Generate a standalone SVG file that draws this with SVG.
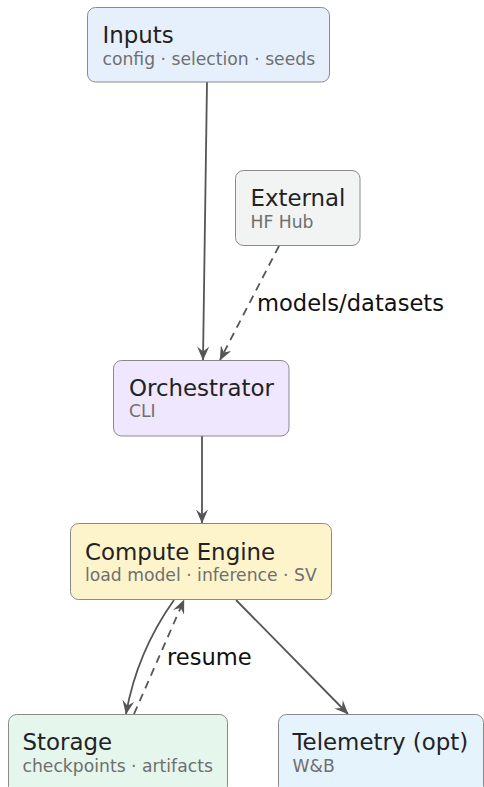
<svg xmlns="http://www.w3.org/2000/svg" width="484" height="787" viewBox="0 0 484 787">
<style>
.box{stroke:#8a8a8a;stroke-width:1}
.t{font-family:"DejaVu Sans",sans-serif;font-size:22.9px;fill:#222}
.s{font-family:"DejaVu Sans",sans-serif;font-size:17.2px;fill:#6f6f6f}
.e{fill:none;stroke:#555;stroke-width:1.8}
.d{stroke-dasharray:8,6}
.lbl{font-family:"DejaVu Sans",sans-serif;font-size:22.6px;fill:#111}
</style>
<defs>
<marker id="ah" viewBox="0 0 14 12" refX="13.5" refY="6" markerWidth="14" markerHeight="12" markerUnits="userSpaceOnUse" orient="auto">
<path d="M0,0 L14,6 L0,12 L5,6 z" fill="#555"/>
</marker>
</defs>
<g id="connectors">
<path class="e" d="M207,82 L203,360" marker-end="url(#ah)"/>
<path class="e d" d="M279,246 L220,360" marker-end="url(#ah)"/>
<path class="e" d="M202,436 L202,523" marker-end="url(#ah)"/>
<path class="e" d="M174,600 Q137,652 126,714" marker-end="url(#ah)"/>
<path class="e d" d="M134,714 L184,600" marker-end="url(#ah)"/>
<path class="e" d="M236,600 L348,714" marker-end="url(#ah)"/>
<text class="lbl" x="257" y="311">models/datasets</text>
<text class="lbl" x="167" y="665">resume</text>
</g>
<g id="inputs">
<rect class="box" x="87.5" y="7.5" width="242" height="74.5" rx="8" fill="#e6f0fd"/>
<text class="t" x="102.5" y="43">Inputs</text>
<text class="s" x="102.5" y="64.5">config · selection · seeds</text>
</g>
<g id="external">
<rect class="box" x="235.5" y="170.5" width="124.5" height="75" rx="8" fill="#f2f3f3"/>
<text class="t" x="250.5" y="205.5">External</text>
<text class="s" x="250.5" y="227.5">HF Hub</text>
</g>
<g id="orchestrator">
<rect class="box" x="113.5" y="360.5" width="175.5" height="75.5" rx="8" fill="#efe7fd"/>
<text class="t" x="129" y="395.5">Orchestrator</text>
<text class="s" x="129" y="416.5">CLI</text>
</g>
<g id="compute">
<rect class="box" x="70.5" y="523.5" width="261" height="76" rx="8" fill="#fef4cc"/>
<text class="t" x="85" y="560">Compute Engine</text>
<text class="s" x="85" y="581">load model · inference · SV</text>
</g>
<g id="storage">
<rect class="box" x="8.5" y="714.5" width="219" height="80" rx="8" fill="#e5f6ec"/>
<text class="t" x="22.5" y="750">Storage</text>
<text class="s" x="22.5" y="771.5">checkpoints · artifacts</text>
</g>
<g id="telemetry">
<rect class="box" x="278.5" y="714.5" width="205" height="80" rx="8" fill="#e5f3fd"/>
<text class="t" x="292.5" y="750">Telemetry (opt)</text>
<text class="s" x="292.5" y="771.5">W&amp;B</text>
</g>
</svg>
